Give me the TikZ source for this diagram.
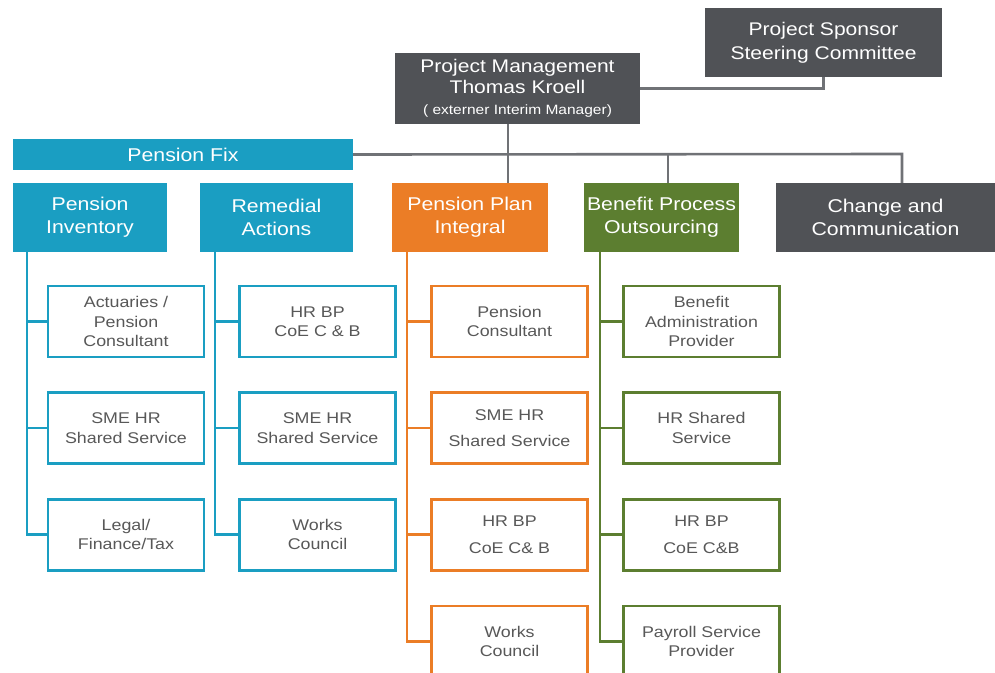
\documentclass[tikz,border=0pt]{standalone}
\usepackage{fontspec}
\setmainfont{Liberation Sans}[FakeStretch=1.15]
\usetikzlibrary{positioning}

\definecolor{fixblue}{RGB}{26,158,194}
\definecolor{planorange}{RGB}{235,125,38}
\definecolor{outgreen}{RGB}{92,126,48}
\definecolor{leadgray}{RGB}{80,82,86}
\definecolor{wiregray}{RGB}{112,114,118}
\definecolor{inkgray}{RGB}{88,88,88}

\begin{document}
\begin{tikzpicture}[
    x=1pt, y=-1pt,
    node distance=33pt,
    head/.style={rectangle, fill=#1, text=white, align=center, inner sep=0pt, font=\fontsize{18.5}{23}\selectfont},
    unit/.style={rectangle, draw=#1, line width=2.6pt, fill=white, text=inkgray, align=center, inner sep=0pt, minimum width=156pt, minimum height=71pt, font=\fontsize{15.5}{19.5}\selectfont},
    link/.style={draw=#1, line width=2.6pt},
    link/.default=wiregray
]
    \useasboundingbox (0,0) rectangle (995,672);

    % Top level
    \node[head=leadgray, minimum width=237pt, minimum height=69pt, font=\fontsize{18.3}{24}\selectfont] (sponsor) at (823.5,42.5) {Project Sponsor\\Steering Committee};
    \node[head=leadgray, minimum width=245pt, minimum height=71pt, font=\fontsize{18.3}{21}\selectfont] (pm) at (517.5,88.5) {Project Management\\Thomas Kroell\\{\fontsize{13.5}{20}\selectfont ( externer Interim Manager)}};
    \node[head=fixblue, minimum width=340pt, minimum height=31pt] (fix) at (183,154.5) {Pension Fix};

    % Work streams
    \node[head=fixblue, minimum width=154pt, minimum height=69pt] (inv) at (90,217.5) {Pension\\Inventory};
    \node[head=fixblue, minimum width=153pt, minimum height=69pt] (rem) at (276.5,217.5) {Remedial\\Actions};
    \node[head=planorange, minimum width=156pt, minimum height=69pt] (ppi) at (470,217.5) {Pension Plan\\Integral};
    \node[head=outgreen, minimum width=155pt, minimum height=69pt] (bpo) at (661.5,217.5) {Benefit Process\\Outsourcing};
    \node[head=leadgray, minimum width=219pt, minimum height=69pt] (chg) at (885.5,217.5) {Change and\\Communication};

    % Pension Inventory
    \node[unit=fixblue] (inv1) at (126,321.5) {Actuaries /\\Pension\\Consultant};
    \node[unit=fixblue, below=of inv1] (inv2) {SME HR\\Shared Service};
    \node[unit=fixblue, below=of inv2] (inv3) {Legal/\\Finance/Tax};

    % Remedial Actions
    \node[unit=fixblue] (rem1) at (317.5,321.5) {HR BP\\CoE C \& B};
    \node[unit=fixblue, below=of rem1] (rem2) {SME HR\\Shared Service};
    \node[unit=fixblue, below=of rem2] (rem3) {Works\\Council};

    % Pension Plan Integral
    \node[unit=planorange] (ppi1) at (509.5,321.5) {Pension\\Consultant};
    \node[unit=planorange, below=of ppi1] (ppi2) {SME HR\\[6pt]Shared Service};
    \node[unit=planorange, below=of ppi2] (ppi3) {HR BP\\[8pt]CoE C\& B};
    \node[unit=planorange, below=of ppi3] (ppi4) {Works\\Council};

    % Benefit Process Outsourcing
    \node[unit=outgreen] (bpo1) at (701.5,321.5) {Benefit\\Administration\\Provider};
    \node[unit=outgreen, below=of bpo1] (bpo2) {HR Shared\\Service};
    \node[unit=outgreen, below=of bpo2] (bpo3) {HR BP\\[8pt]CoE C\&B};
    \node[unit=outgreen, below=of bpo3] (bpo4) {Payroll Service\\Provider};

    % Gray connectors
    \coordinate (trunk) at (508,154);
    \coordinate (bpodrop) at (668,154);
    \coordinate (chgdrop) at (902,154);
    \draw[link] (pm.east) -| (sponsor.south);
    \draw[link] (pm.south -| trunk) -- (ppi.north -| trunk);
    \draw[link] (fix.east) -- (chgdrop) -- (chgdrop |- chg.north);
    \draw[link] (bpodrop) -- (bpodrop |- bpo.north);

    % Coloured spines
    \coordinate (invs) at ([xshift=14pt]inv.south west);
    \coordinate (rems) at ([xshift=15pt]rem.south west);
    \coordinate (ppis) at ([xshift=15pt]ppi.south west);
    \coordinate (bpos) at ([xshift=16pt]bpo.south west);
    \draw[link=fixblue] (invs) |- (inv3.west);
    \draw[link=fixblue] (rems) |- (rem3.west);
    \draw[link=planorange] (ppis) |- (ppi4.west);
    \draw[link=outgreen] (bpos) |- (bpo4.west);
    \foreach \i in {1,2} {
        \draw[link=fixblue] (inv\i.west) -- (inv\i.west -| invs);
        \draw[link=fixblue] (rem\i.west) -- (rem\i.west -| rems);
    }
    \foreach \i in {1,2,3} {
        \draw[link=planorange] (ppi\i.west) -- (ppi\i.west -| ppis);
        \draw[link=outgreen] (bpo\i.west) -- (bpo\i.west -| bpos);
    }
\end{tikzpicture}
\end{document}
